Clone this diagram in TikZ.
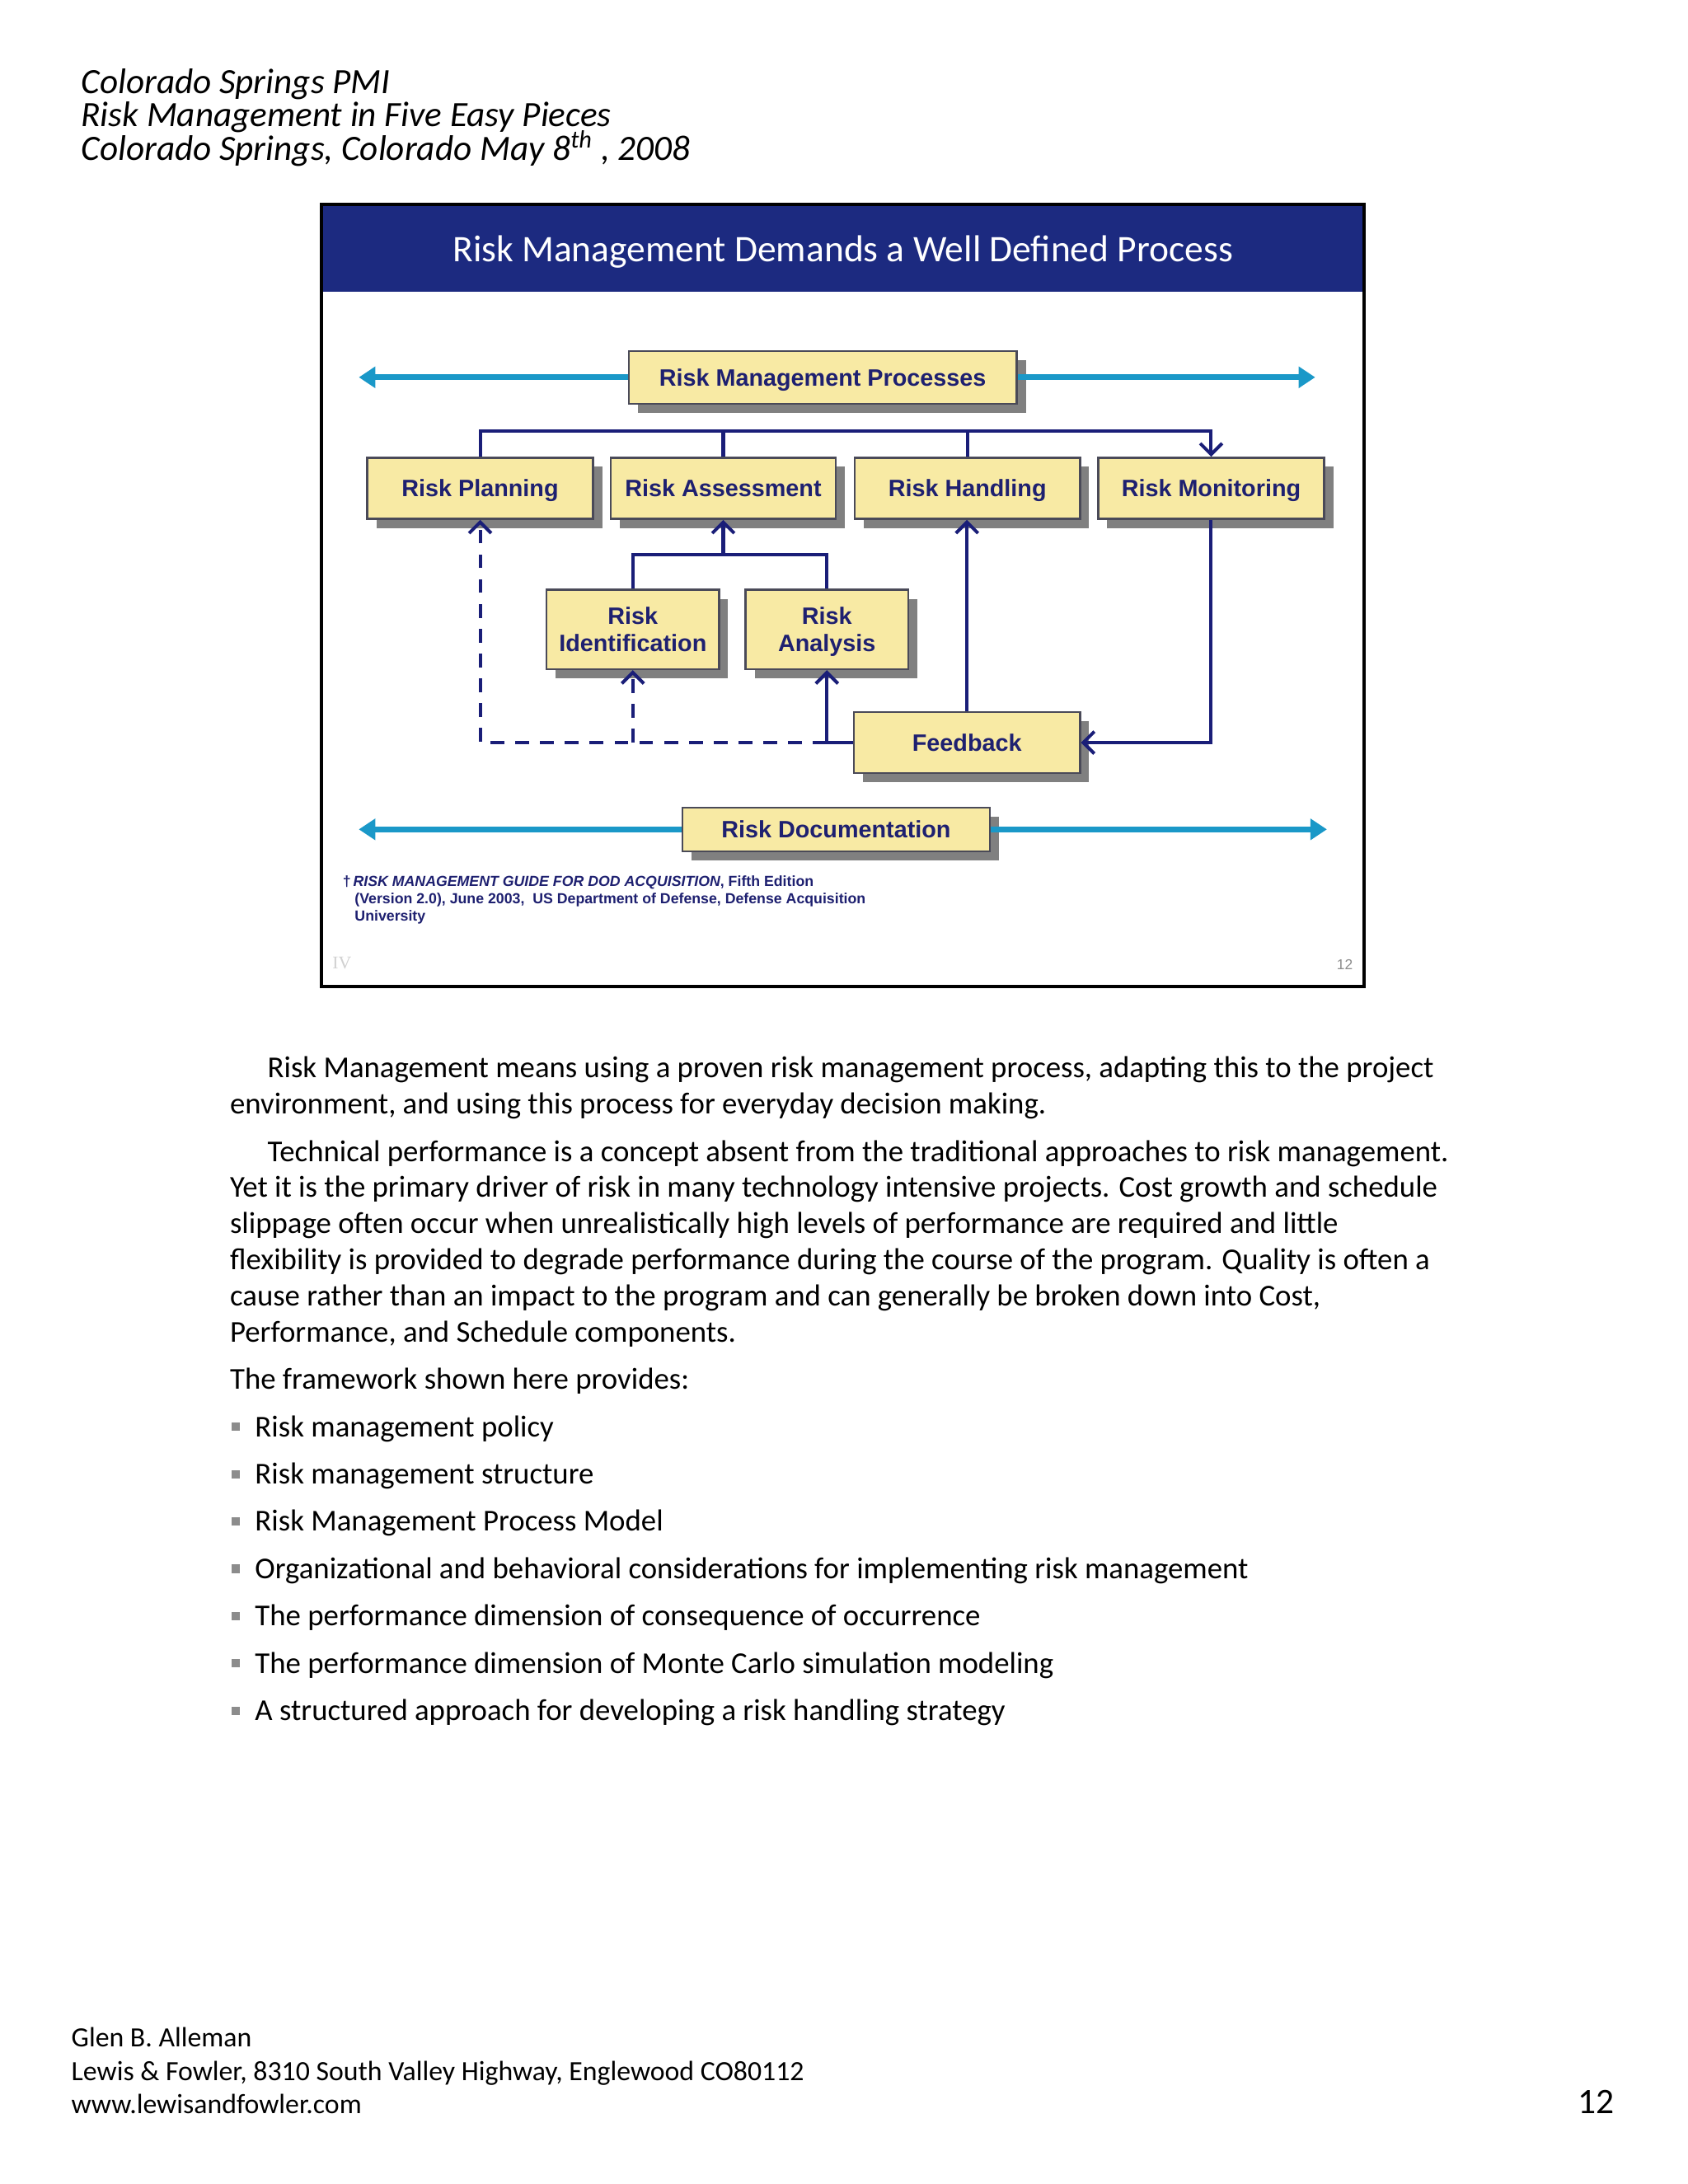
\documentclass[tikz,border=0pt]{standalone}
\usepackage{fontspec}
\setmainfont{Carlito}
\newfontfamily\arialf{Liberation Sans}
\newfontfamily\timesf{Liberation Serif}
\usetikzlibrary{arrows.meta,shadows}
\definecolor{navy}{HTML}{1A1E78}
\definecolor{titleblue}{HTML}{1C2A80}
\definecolor{boxfill}{HTML}{F8EAA4}
\definecolor{boxline}{HTML}{4A4A58}
\definecolor{shadowgray}{HTML}{808080}
\definecolor{cyanarrow}{HTML}{1A98C8}
\definecolor{boxtext}{HTML}{1E2070}
\definecolor{bulletgray}{HTML}{8C8C8C}
\newcommand\pxu{0.50437pt}
\begin{document}
\begin{tikzpicture}[x=0.50437pt,y=-0.50437pt,
  procbox/.style={draw=boxline, line width=0.7pt, fill=boxfill, inner sep=0pt,
    font=\arialf\bfseries\fontsize{8.6}{10.1}\selectfont, text=boxtext, align=center,
    text height=6.1pt, text depth=0pt,
    drop shadow={shadow xshift=3.3pt, shadow yshift=-3.3pt, fill=shadowgray, opacity=1}},
  twoline/.style={text height=16.2pt, text depth=0pt},
  cyanline/.style={line width=2pt, draw=cyanarrow, -{Triangle[length=6pt,width=7.5pt]}},
  navyline/.style={line width=1.2pt, draw=navy},
  navyarrow/.style={navyline, -{Straight Barb[length=4pt,width=8pt]}},
  dashline/.style={navyline, dash pattern=on 5pt off 4pt},
  bodytext/.style={anchor=base west, inner sep=0pt, font=\fontsize{11}{13}\selectfont},
  headtext/.style={anchor=base west, inner sep=0pt, font=\itshape\fontsize{12.9}{13}\selectfont},
  foottext/.style={anchor=base west, inner sep=0pt, font=\fontsize{10.1}{12}\selectfont},
  fntext/.style={anchor=base west, inner sep=0pt, text=boxtext, font=\arialf\bfseries\fontsize{5.3}{6}\selectfont},
  bulletsq/.style={fill=bulletgray, inner sep=0pt, minimum size=3pt}
]
\useasboundingbox[fill=white] (0,0) rectangle (1213.4,1570.4);

% header
\node[headtext] (h1) at (58,67) {Colorado Springs PMI};
\node[headtext] (h2) at (58,91) {Risk Management in Five Easy Pieces};
\node[headtext] (h3) at (58,115) {Colorado Springs, Colorado May 8\textsuperscript{th} , 2008};

% slide frame and title bar
\fill[titleblue] (231,147) rectangle (981,209.8);
\draw[line width=1.2pt, black] (231,147) rectangle (981,709.5);
\node[anchor=base, inner sep=0pt, text=white, font=\fontsize{13.6}{15}\selectfont] (title) at (606,188)
  {Risk Management Demands a Well Defined Process};

% boxes
\node[procbox, minimum width=279*\pxu, minimum height=38*\pxu] (rmp) at (591.5,271.3) {Risk Management Processes};
\node[procbox, minimum width=162.4*\pxu, minimum height=44*\pxu] (plan) at (345.2,351.1) {Risk Planning};
\node[procbox, minimum width=162*\pxu, minimum height=44*\pxu] (assess) at (520,351.1) {Risk Assessment};
\node[procbox, minimum width=161.9*\pxu, minimum height=44*\pxu] (handl) at (695.55,351.1) {Risk Handling};
\node[procbox, minimum width=162.4*\pxu, minimum height=44*\pxu] (monit) at (870.8,351.1) {Risk Monitoring};
\node[procbox, twoline, minimum width=124*\pxu, minimum height=57.2*\pxu] (ident) at (455,452.6) {Risk\\Identification};
\node[procbox, twoline, minimum width=117*\pxu, minimum height=57.2*\pxu] (anal) at (594.5,452.6) {Risk\\Analysis};
\node[procbox, minimum width=162.5*\pxu, minimum height=44.1*\pxu] (feed) at (695.25,533.95) {Feedback};
\node[procbox, minimum width=220.9*\pxu, minimum height=31.3*\pxu] (doc) at (601.15,596.35) {Risk Documentation};

% cyan arrows
\coordinate (rmpL) at (258,271.3);
\coordinate (rmpR) at (945.6,271.3);
\coordinate (docL) at (258,596.35);
\coordinate (docR) at (954,596.35);
\draw[cyanline] (rmp.west) -- (rmpL);
\draw[cyanline] (rmp.east) -- (rmpR);
\draw[cyanline] (doc.west) -- (docL);
\draw[cyanline] (doc.east) -- (docR);

% bus
\coordinate (bus) at (870.8,309.7);
\draw[navyarrow] (plan.north) |- (bus) -- (monit.north);
\draw[navyline] (assess.north) -- (assess.north |- bus);
\draw[navyline] (handl.north) -- (handl.north |- bus);

% identification / analysis
\coordinate (idtop) at (455,398.9);
\draw[navyline] (ident.north) |- (anal.north |- idtop) -- (anal.north);
\draw[navyarrow] (assess.south |- idtop) -- (assess.south);

% feedback loop
\draw[navyarrow] (monit.south) |- (feed.east);
\draw[navyarrow] (feed.north) -- (feed.north |- handl.south);
\draw[navyarrow] (feed.west) -| (anal.south);
\draw[dashline, -{Straight Barb[length=4pt,width=8pt]}] (anal.south |- feed.west) -| (plan.south);
\draw[dashline, -{Straight Barb[length=4pt,width=8pt]}] (ident.south |- feed.west) -- (ident.south);

% footnote
\node[fntext] (fn1) at (246,637.5) {†\,\textit{RISK MANAGEMENT GUIDE FOR DOD ACQUISITION}, Fifth Edition};
\node[fntext] (fn2) at (254.7,650) {(Version 2.0), June 2003,\ \ US Department of Defense, Defense Acquisition};
\node[fntext] (fn3) at (254.7,662) {University};
\node[anchor=base west, inner sep=0pt, text=black!18, font=\timesf\fontsize{6.5}{7}\selectfont] (iv) at (238.6,696.5) {IV};
\node[anchor=base east, inner sep=0pt, text=black!45, font=\arialf\fontsize{5.2}{6}\selectfont] (snum) at (973,697) {12};

% body text
\node[bodytext] (p1a) at (192,775) {Risk Management means using a proven risk management process, adapting this to the project};
\node[bodytext] (p1b) at (165,801) {environment, and using this process for everyday decision making.};
\node[bodytext] (p2a) at (192,835) {Technical performance is a concept absent from the traditional approaches to risk management.};
\node[bodytext] (p2b) at (165,861) {Yet it is the primary driver of risk in many technology intensive projects. Cost growth and schedule};
\node[bodytext] (p2c) at (165,887) {slippage often occur when unrealistically high levels of performance are required and little};
\node[bodytext] (p2d) at (165,913) {flexibility is provided to degrade performance during the course of the program. Quality is often a};
\node[bodytext] (p2e) at (165,939) {cause rather than an impact to the program and can generally be broken down into Cost,};
\node[bodytext] (p2f) at (165,965) {Performance, and Schedule components.};
\node[bodytext] (p3) at (165,999) {The framework shown here provides:};

\foreach \i/\t in {0/Risk management policy,
                   1/Risk management structure,
                   2/Risk Management Process Model,
                   3/Organizational and behavioral considerations for implementing risk management,
                   4/The performance dimension of consequence of occurrence,
                   5/The performance dimension of Monte Carlo simulation modeling,
                   6/A structured approach for developing a risk handling strategy}{
  \node[bulletsq] (bul\i) at (169.5,{1026+34*\i}) {};
  \node[bodytext] (item\i) at (183,{1033+34*\i}) {\t};
}

% footer
\node[foottext] (f1) at (51,1472) {Glen B. Alleman};
\node[foottext] (f2) at (51,1496) {Lewis \& Fowler, 8310 South Valley Highway, Englewood CO80112};
\node[foottext] (f3) at (51,1520) {www.lewisandfowler.com};
\node[anchor=base east, inner sep=0pt, font=\fontsize{13}{15}\selectfont] (pnum) at (1161,1520) {12};
\end{tikzpicture}
\end{document}
